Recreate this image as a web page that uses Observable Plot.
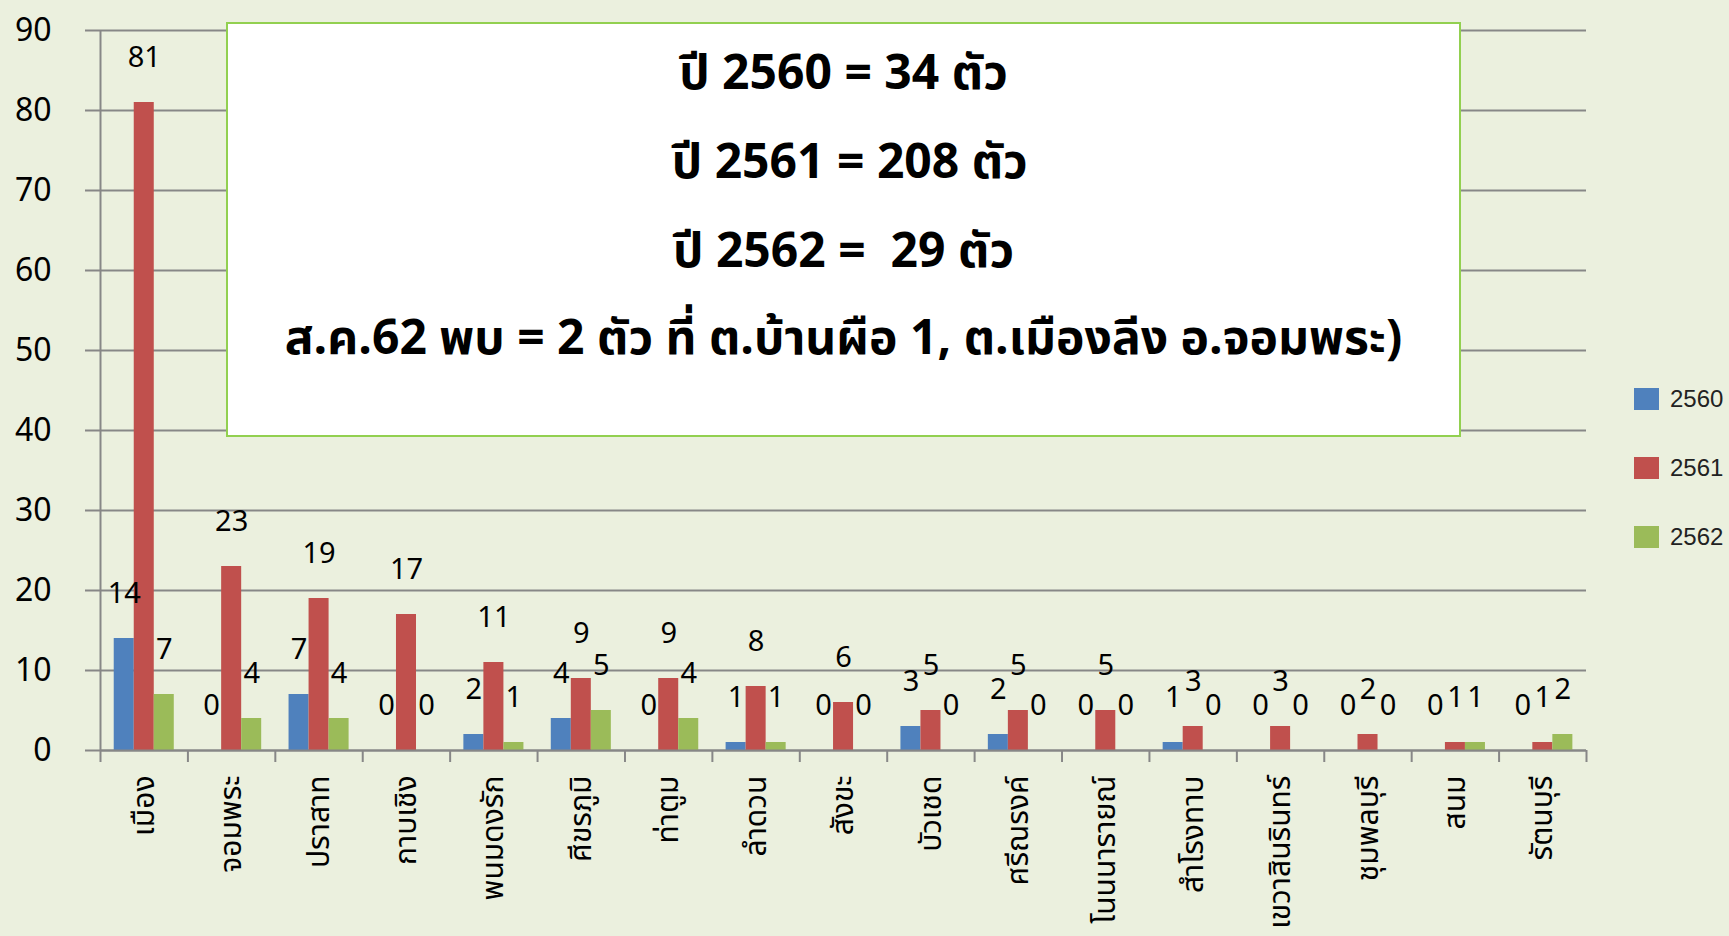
<!DOCTYPE html>
<html>
<head>
<meta charset="utf-8">
<script src="https://cdn.jsdelivr.net/npm/d3@7"></script>
<script src="https://cdn.jsdelivr.net/npm/@observablehq/plot@0.6"></script>
<style>
  html, body { margin: 0; padding: 0; background: #ebf0de; overflow: hidden; }
  #wrap { position: relative; width: 1729px; height: 936px; font-family: "Noto Sans Thai", "Noto Sans", sans-serif; }
  #chart { position: absolute; left: 0; top: 0; }
  #box { position: absolute; left: 226px; top: 22px; width: 1231px; height: 411px; background: #fff; border: 2px solid #92d050; }
  #box div { position: absolute; left: 0; right: 0; text-align: center; font-weight: bold; font-size: 48px; line-height: 1; color: #000; white-space: pre; transform: translateY(-50%); }
  #legend { position: absolute; left: 1634px; top: 388px; font-family: "Liberation Sans", Arial, sans-serif; font-size: 24px; color: #222; }
  #legend .row { display: flex; align-items: center; height: 22px; margin-bottom: 47px; }
  #legend .sw { width: 25px; height: 22px; margin-right: 11px; }
</style>
</head>
<body>
<div id="wrap">
  <div id="chart"></div>
  <div id="box"></div>
  <div id="legend"></div>
</div>
<script>
const categories = ["เมือง","จอมพระ","ปราสาท","กาบเชิง","พนมดงรัก","ศีขรภูมิ","ท่าตูม","ลำดวน","สังขะ","บัวเชด","ศรีณรงค์","โนนนารายณ์","สำโรงทาบ","เขวาสินรินทร์","ชุมพลบุรี","สนม","รัตนบุรี"];
const series = ["2560","2561","2562"];
const values2560 = [14, 0, 7, 0, 2, 4, 0, 1, 0, 3, 2, 0, 1, 0, 0, 0, 0];
const values2561 = [81, 23, 19, 17, 11, 9, 9, 8, 6, 5, 5, 5, 3, 3, 2, 1, 1];
const values2562 = [7, 4, 4, 0, 1, 5, 4, 1, 0, 0, 0, 0, 0, 0, 0, 1, 2];
const colors = ["#4f81bd", "#c0504d", "#9bbb59"];
const yTicks = [0, 10, 20, 30, 40, 50, 60, 70, 80, 90];
const summaryLines = ["ปี 2560 = 34 ตัว", " ปี 2561 = 208 ตัว", "ปี 2562 =  29 ตัว", "ส.ค.62 พบ = 2 ตัว ที่ ต.บ้านผือ 1, ต.เมืองลีง อ.จอมพระ)"];

const seriesValues = [values2560, values2561, values2562];
const rows = categories.flatMap((c, i) => series.map((s, j) => ({category: c, i, series: s, j, value: seriesValues[j][i]})));

const gap = 0.157;   // outer gap fraction of each category band
const barW = 0.229;  // bar width fraction of a category band
const gray = "#878787";

const chart = Plot.plot({
  width: 1729,
  height: 936,
  marginLeft: 100,
  marginRight: 143,
  marginTop: 30,
  marginBottom: 186,
  style: {background: "transparent", fontFamily: "'Noto Sans Thai', 'Noto Sans', sans-serif", color: "#000"},
  x: {domain: [0, categories.length], axis: null},
  y: {domain: [0, 90], axis: null},
  color: {domain: series, range: colors},
  marks: [
    Plot.ruleY(yTicks, {stroke: gray, strokeWidth: 2}),
    Plot.axisY({ticks: yTicks, tickSize: 15, tickPadding: 34, fontSize: 32, label: null, stroke: gray, strokeWidth: 2, strokeOpacity: 1}),
    Plot.ruleX([0], {stroke: gray, strokeWidth: 2}),
    Plot.axisX({ticks: d3.range(0, categories.length + 1), tickSize: 12, tickFormat: () => "", label: null, stroke: gray, strokeWidth: 2, strokeOpacity: 1}),
    Plot.axisX({ticks: categories.map((_, i) => i + 0.5), tickFormat: t => categories[Math.floor(t)], label: null, tickSize: 0, tickPadding: 25, tickRotate: -90, fontSize: 30}),
    Plot.rectY(rows, {
      x1: d => d.i + gap + d.j * barW,
      x2: d => d.i + gap + (d.j + 1) * barW,
      y: "value",
      fill: "series"
    }),
    Plot.ruleY([0], {stroke: gray, strokeWidth: 2}),
    Plot.text(rows, {
      x: d => d.i + gap + (d.j + 0.5) * barW,
      y: "value",
      text: d => String(d.value),
      dy: -45,
      fontSize: 29,
      fill: "#000"
    })
  ]
});
document.getElementById("chart").appendChild(chart);

const box = document.getElementById("box");
const lineCenters = [51, 140, 229, 316];
summaryLines.forEach((t, k) => {
  const d = document.createElement("div");
  d.textContent = t;
  d.style.top = lineCenters[k] + "px";
  box.appendChild(d);
});

const legend = document.getElementById("legend");
series.forEach((s, j) => {
  const r = document.createElement("div");
  r.className = "row";
  r.innerHTML = `<div class="sw" style="background:${colors[j]}"></div><span>${s}</span>`;
  legend.appendChild(r);
});
</script>
</body>
</html>
